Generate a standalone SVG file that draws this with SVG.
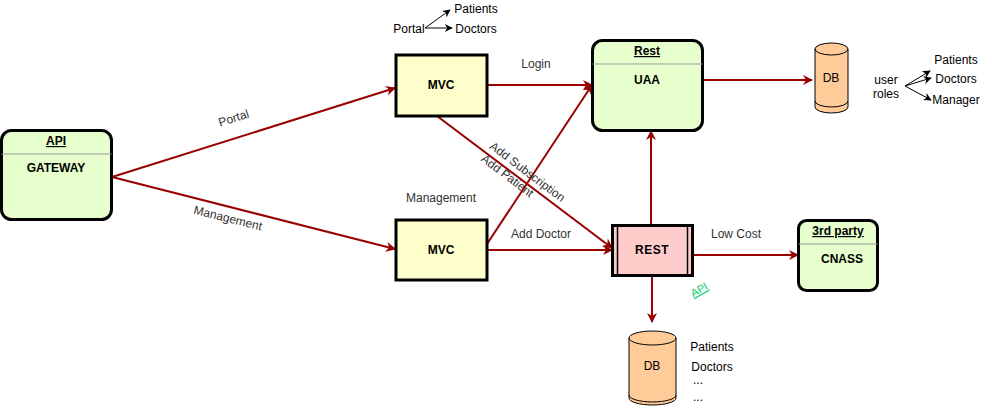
<svg xmlns="http://www.w3.org/2000/svg" width="982" height="409" viewBox="0 0 982 409">
<defs>
<marker id="arr" viewBox="0 0 10 10" refX="9" refY="5" markerWidth="12" markerHeight="10" orient="auto" markerUnits="userSpaceOnUse">
<path d="M0,0 L10,5 L0,10 L3,5 Z" fill="#990000"/>
</marker>
<marker id="arrk" viewBox="0 0 10 10" refX="9" refY="5" markerWidth="9" markerHeight="8" orient="auto" markerUnits="userSpaceOnUse">
<path d="M0,0 L10,5 L0,10 L3,5 Z" fill="#000"/>
</marker>
<style>
text{font-family:"Liberation Sans",Arial,sans-serif;font-size:12px;fill:#000;text-anchor:middle}
.b{font-weight:bold}
.u{text-decoration:underline}
.lbl{fill:#333}
.e{stroke:#990000;stroke-width:2;fill:none;marker-end:url(#arr)}
.k{stroke:#000;stroke-width:1;fill:none;marker-end:url(#arrk)}
.green{fill:#e6ffcc;stroke:#000;stroke-width:3}
.yel{fill:#ffffcc;stroke:#000;stroke-width:3}
.cyl{fill:#ffcc99;stroke:#000;stroke-width:1}
.sep{stroke:#999;stroke-width:1}
</style>
</defs>
<g id="connectors">
<line class="e" x1="112" y1="177" x2="395" y2="88"/>
<line class="e" x1="112" y1="177" x2="395" y2="249"/>
<line class="e" x1="487" y1="85" x2="592" y2="85"/>
<line class="e" x1="437" y1="116" x2="612" y2="248"/>
<line class="e" x1="487" y1="244" x2="592" y2="85"/>
<line class="e" x1="487" y1="250" x2="612" y2="250"/>
<line class="e" x1="651" y1="225" x2="651" y2="131"/>
<line class="e" x1="703" y1="80" x2="812" y2="80"/>
<line class="e" x1="693" y1="255" x2="798" y2="255"/>
<line class="e" x1="652" y1="276" x2="652" y2="322"/>
<text class="lbl" transform="translate(235,122) rotate(-18)">Portal</text>
<text class="lbl" transform="translate(227,222) rotate(14)">Management</text>
<text class="lbl" x="536" y="68">Login</text>
<text class="lbl" x="541" y="238">Add Doctor</text>
<text class="lbl" x="736" y="238">Low Cost</text>
<text class="lbl" transform="translate(525,175) rotate(37)">Add Subscription</text>
<text class="lbl" transform="translate(505,179) rotate(37)">Add Patient</text>
<text class="lbl" x="441" y="202">Management</text>
</g>
<g id="portal-note">
<text x="409" y="33">Portal</text>
<line class="k" x1="425" y1="28" x2="450" y2="10"/>
<line class="k" x1="425" y1="28" x2="452" y2="28"/>
<text x="476" y="13">Patients</text>
<text x="476" y="33">Doctors</text>
</g>
<g id="api-gateway">
<rect class="green" x="1.5" y="130.5" width="110" height="89" rx="10"/>
<line class="sep" x1="1.5" y1="154" x2="111.5" y2="154"/>
<text class="b u" x="56" y="145">API</text>
<text class="b" x="56" y="172">GATEWAY</text>
</g>
<g id="mvc-portal">
<rect class="yel" x="396" y="55" width="91" height="61"/>
<text class="b" x="441" y="89">MVC</text>
</g>
<g id="mvc-management">
<rect class="yel" x="396" y="220" width="91" height="60"/>
<text class="b" x="441" y="254">MVC</text>
</g>
<g id="rest-uaa">
<rect class="green" x="592.5" y="40.5" width="110" height="90" rx="10"/>
<line class="sep" x1="592.5" y1="64" x2="702.5" y2="64"/>
<text class="b u" x="647" y="55">Rest</text>
<text class="b" x="647" y="84">UAA</text>
</g>
<g id="db-uaa">
<path class="cyl" d="M815,49 A16.5,6 0 0 1 848,49 L848,107 A16.5,6 0 0 1 815,107 Z"/>
<path d="M815,49 A16.5,6 0 0 0 848,49" fill="none" stroke="#000"/>
<path d="M815,101 A16.5,6 0 0 0 848,101" fill="none" stroke="#000"/>
<text x="831" y="82">DB</text>
</g>
<g id="user-roles">
<text x="886" y="84">user</text>
<text x="886" y="98">roles</text>
<line class="k" x1="905" y1="86" x2="930" y2="71"/>
<line class="k" x1="905" y1="86" x2="931" y2="78"/>
<line class="k" x1="905" y1="86" x2="931" y2="100"/>
<text x="956" y="64">Patients</text>
<text x="956" y="83">Doctors</text>
<text x="956" y="104">Manager</text>
</g>
<g id="rest">
<rect x="612.5" y="225.5" width="80" height="50" fill="#ffcccc" stroke="#000" stroke-width="3"/>
<line x1="617.5" y1="225.5" x2="617.5" y2="275.5" stroke="#000" stroke-width="1.5"/>
<line x1="687.5" y1="225.5" x2="687.5" y2="275.5" stroke="#000" stroke-width="1.5"/>
<text class="b" x="652" y="254" style="letter-spacing:0.5px">REST</text>
</g>
<g id="cnass">
<rect class="green" x="798.5" y="220.5" width="79" height="70" rx="8"/>
<line class="sep" x1="798.5" y1="244" x2="877.5" y2="244"/>
<text class="b u" x="838" y="235">3rd party</text>
<text class="b" x="842" y="263">CNASS</text>
</g>
<text class="u" transform="translate(701,293) rotate(-30)" style="font-size:11px;fill:#00cc66">API</text>
<g id="db-rest">
<path class="cyl" d="M629,338 A23.5,7 0 0 1 676,338 L676,398 A23.5,7 0 0 1 629,398 Z"/>
<path d="M629,338 A23.5,7 0 0 0 676,338" fill="none" stroke="#000"/>
<path d="M629,395 A23.5,7 0 0 0 676,395" fill="none" stroke="#000"/>
<text x="652" y="370">DB</text>
</g>
<g id="db-rest-notes">
<text x="712" y="351">Patients</text>
<text x="712" y="371">Doctors</text>
<text x="698" y="384">...</text>
<text x="698" y="401">...</text>
</g>
</svg>
